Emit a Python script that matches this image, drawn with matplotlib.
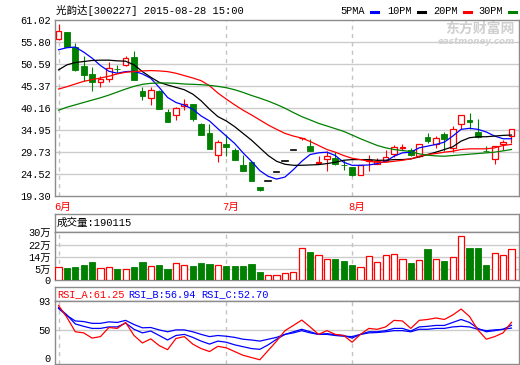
import matplotlib
matplotlib.use("Agg")
import matplotlib.pyplot as plt
import matplotlib.transforms as mtransforms
from matplotlib.patches import Rectangle
from matplotlib.lines import Line2D

plt.rcParams['font.family'] = ['Liberation Mono', 'Noto Sans CJK SC', 'DejaVu Sans']
plt.rcParams['font.size'] = 7.4

# ---------------- data ----------------
title_text = "光韵达[300227] 2015-08-28 15:00"
opens = [56.44, 58.27, 54.69, 50.15, 48.24, 46.25, 47.04, 49.51, 50.39, 52.30,
         44.18, 42.59, 44.18, 39.16, 38.52, 40.75, 41.07, 36.30, 34.31, 28.97,
         31.52, 30.32, 26.74, 27.38, 21.41, 22.92, 25.07, 27.54, 30.32, 33.03,
         31.04, 27.07, 28.18, 28.34, 26.74, 26.11, 24.27, 27.62, 26.98, 27.54,
         29.29, 30.56, 30.32, 28.75, 33.35, 31.52, 33.91, 30.72, 36.45, 37.33,
         34.55, 30.01, 28.18, 31.68, 33.59]
highs = [60.18, 58.27, 55.64, 52.46, 49.83, 47.68, 51.18, 50.39, 52.38, 53.73,
         45.13, 45.13, 44.34, 39.88, 40.51, 42.27, 41.07, 36.53, 36.30, 32.56,
         33.75, 30.64, 28.97, 27.38, 21.41, 22.92, 25.07, 27.54, 30.32, 33.11,
         32.71, 28.89, 29.93, 29.69, 27.86, 26.11, 26.58, 28.97, 28.42, 30.32,
         31.28, 31.68, 30.72, 31.68, 34.31, 33.51, 34.47, 35.90, 38.53, 38.92,
         37.49, 31.12, 31.12, 32.56, 35.26]
lows = [56.20, 54.69, 49.03, 46.64, 44.26, 45.21, 46.25, 48.48, 50.23, 46.80,
        42.03, 40.83, 39.88, 36.85, 37.33, 39.72, 37.09, 33.67, 30.48, 27.30,
        28.89, 27.78, 25.15, 22.76, 20.53, 22.92, 25.07, 27.54, 30.32, 32.48,
        29.90, 27.07, 25.15, 26.66, 25.39, 23.96, 24.27, 25.15, 26.98, 27.54,
        28.57, 30.32, 28.89, 28.57, 31.76, 30.72, 29.93, 29.69, 35.10, 35.10,
        33.11, 29.85, 26.90, 30.09, 31.92]
closes = [58.43, 54.69, 49.27, 48.08, 46.41, 46.96, 49.59, 49.43, 51.98, 46.88,
          43.06, 44.42, 39.96, 36.85, 40.27, 41.07, 37.57, 33.75, 30.48, 32.16,
          30.88, 27.94, 25.15, 22.92, 20.77, 22.92, 25.07, 27.54, 30.32, 33.11,
          29.93, 27.38, 28.81, 26.98, 26.66, 24.20, 26.58, 27.94, 27.54, 28.57,
          30.88, 30.88, 29.13, 31.68, 32.32, 33.11, 32.87, 35.10, 38.53, 36.93,
          33.35, 29.85, 31.12, 32.16, 35.26]

ma5 = [53.97, 54.45, 54.61, 53.41, 51.98, 50.23, 48.87, 48.40, 48.79, 48.87,
       48.24, 47.20, 45.05, 42.66, 41.47, 40.83, 39.88, 38.28, 37.09, 35.26,
       33.51, 31.76, 29.53, 27.53, 25.31, 23.96, 23.31, 23.79, 25.54, 27.53,
       29.13, 29.53, 29.69, 28.89, 27.30, 26.58, 26.58, 26.66, 26.98, 27.53,
       28.73, 29.53, 29.69, 30.72, 31.12, 31.52, 32.07, 33.51, 35.10, 35.34,
       35.10, 34.47, 33.51, 32.87, 32.87]
ma10 = [49.19, 50.39, 50.94, 51.18, 51.42, 51.50, 51.50, 51.34, 51.26, 50.39,
        48.79, 47.44, 46.25, 45.61, 45.05, 44.49, 43.46, 41.87, 39.88, 38.12,
        37.09, 35.74, 34.14, 32.55, 30.72, 28.89, 27.53, 26.82, 26.58, 26.58,
        26.66, 26.74, 26.98, 27.30, 27.77, 27.93, 27.93, 27.93, 27.77, 27.77,
        27.93, 27.93, 28.09, 28.57, 29.13, 29.69, 30.32, 30.96, 32.31, 33.11,
        33.35, 33.35, 33.51, 33.67, 33.75]
ma20 = [44.65, 45.21, 45.85, 46.48, 46.88, 47.28, 47.68, 48.24, 48.63, 48.79,
        48.95, 49.03, 48.95, 48.79, 48.40, 47.84, 47.28, 46.64, 45.45, 43.70,
        42.27, 40.91, 39.64, 38.52, 37.33, 36.13, 35.10, 34.14, 33.51, 33.03,
        32.23, 31.28, 30.32, 29.69, 28.89, 28.25, 27.93, 27.53, 27.30, 27.30,
        27.53, 27.77, 28.09, 28.73, 29.13, 29.37, 29.69, 29.92, 30.32, 30.48,
        30.48, 30.48, 30.72, 31.28, 31.52]
ma30 = [39.64, 40.35, 40.91, 41.47, 42.03, 42.58, 43.22, 43.94, 44.65, 45.29,
        45.77, 46.01, 46.09, 46.09, 46.01, 45.85, 45.77, 45.69, 45.53, 45.29,
        44.97, 44.49, 43.86, 43.14, 42.50, 41.79, 40.99, 40.11, 39.08, 38.12,
        37.33, 36.53, 35.90, 35.26, 34.62, 33.75, 32.87, 32.07, 31.28, 30.72,
        30.32, 30.08, 29.84, 29.29, 28.97, 28.81, 28.73, 28.89, 29.05, 29.21,
        29.37, 29.53, 29.69, 30.00, 30.32]

volumes = [78700, 74600, 80800, 93200, 111800, 74600, 78700, 68300, 68300, 80800,
           111800, 87000, 93200, 68300, 101500, 91100, 87000, 105600, 99400, 91100,
           87000, 87000, 87000, 97300, 49700, 29000, 29000, 41400, 47600, 196700,
           167800, 153300, 128400, 130500, 118000, 93200, 78700, 147000, 109800, 153300,
           159500, 128400, 105600, 122200, 186400, 128400, 118000, 140800, 265000, 192600,
           192600, 93200, 165700, 153300, 190115]

rsi_a = [86.35, 68.62, 47.22, 45.56, 37.78, 40.00, 53.55, 52.22, 61.08, 41.67,
         30.56, 36.67, 26.67, 20.56, 37.22, 40.00, 28.89, 22.22, 17.78, 25.56,
         23.33, 17.78, 12.22, 8.89, 5.56, 19.44, 33.33, 48.89, 56.65, 64.63,
         54.43, 43.33, 48.89, 43.33, 41.67, 31.67, 43.33, 52.22, 50.89, 54.43,
         64.18, 63.30, 52.22, 64.18, 65.52, 67.73, 65.52, 72.17, 81.03, 69.95,
         50.00, 36.11, 40.00, 45.56, 61.25]
rsi_b = [83.25, 72.17, 58.87, 55.32, 52.22, 52.22, 54.43, 54.43, 60.20, 50.89,
         45.56, 48.33, 41.67, 35.00, 41.67, 43.33, 38.89, 33.33, 28.89, 33.33,
         31.67, 27.78, 25.00, 22.22, 21.11, 27.78, 36.11, 43.33, 47.22, 50.89,
         47.22, 43.33, 44.44, 42.78, 41.67, 37.78, 43.33, 47.22, 47.22, 48.89,
         52.22, 52.22, 48.33, 54.43, 55.32, 56.65, 56.65, 61.08, 65.52, 61.08,
         52.22, 47.22, 48.89, 50.89, 56.94]
rsi_c = [81.92, 71.28, 63.30, 62.41, 59.75, 59.75, 61.97, 61.08, 64.18, 57.98,
         53.10, 53.55, 50.00, 47.22, 50.00, 50.00, 47.22, 43.33, 40.00, 41.67,
         40.56, 38.89, 36.11, 35.00, 33.33, 36.11, 38.89, 43.33, 45.56, 48.89,
         45.56, 43.33, 43.33, 41.67, 40.56, 40.00, 43.33, 45.56, 46.11, 47.22,
         48.89, 48.89, 47.22, 50.89, 50.89, 52.22, 52.22, 54.43, 55.32, 54.43,
         50.89, 48.89, 50.00, 50.89, 52.70]

price_ticks = [19.30, 24.52, 29.73, 34.95, 40.16, 45.37, 50.59, 55.80, 61.02]
vol_ticks = [0, 68000, 141000, 213000, 292000]
vol_tick_labels = ['0', '5万', '14万', '22万', '30万']
rsi_ticks = [0, 50, 93]
month_starts = [0, 20, 35]
month_labels = ['6月', '7月', '8月']
legend_names = ['5PMA', '10PM', '20PM', '30PM']
legend_colors = ['#0000FF', '#000000', '#FF0000', '#008000']
vol_title = '成交量:190115'
rsi_titles = ['RSI_A:61.25', 'RSI_B:56.94', 'RSI_C:52.70']
rsi_title_colors = ['#FF0000', '#0000FF', '#0000FF']

# ---------------- layout helpers ----------------
W, H = 520, 365
fig = plt.figure(figsize=(W / 100, H / 100), dpi=100)
fig.patch.set_facecolor('white')


def axes_px(x0, y0, x1, y1):
    return fig.add_axes([x0 / W, 1 - y1 / H, (x1 - x0) / W, (y1 - y0) / H])


BORDER = '#8c8c8c'
GRID = '#cccccc'
DASH = '#c4c4c4'
RED = '#FF0000'
GREEN = '#008000'
n = len(closes)
xs = list(range(n))
XLIM = (-0.42, n - 0.1)


def style(ax):
    ax.set_xlim(*XLIM)
    ax.set_facecolor('white')
    for s in ax.spines.values():
        s.set_color(BORDER)
        s.set_linewidth(1.0)
    ax.set_xticks([])
    ax.tick_params(axis='y', length=0, pad=3, labelsize=7.4)


# ---------------- main price panel ----------------
ax = axes_px(55, 20, 519, 196)
style(ax)
ax.set_ylim(price_ticks[0], price_ticks[-1])
ax.set_yticks(price_ticks)
ax.set_yticklabels([f"{t:.2f}" for t in price_ticks])
for t in price_ticks[1:-1]:
    ax.axhline(t, color=GRID, lw=1.0, zorder=0)
for m in month_starts:
    ax.axvline(m, color=DASH, lw=1.0, ls=(0, (3, 3)), zorder=0)

# watermark
ax.text(0.99, 0.95, '东方财富网', transform=ax.transAxes, ha='right', va='center',
        color='#cfcfcf', fontsize=10, fontweight='bold', family=['Noto Sans CJK SC'], zorder=0)
ax.text(0.99, 0.875, 'eastmoney.com', transform=ax.transAxes, ha='right', va='center',
        color='#d2d2d2', fontsize=6.3, fontweight='bold', style='italic',
        family=['DejaVu Sans'], zorder=0)

bw = 0.68
for i in xs:
    o, h, l, c = opens[i], highs[i], lows[i], closes[i]
    if c > o:
        ax.plot([i, i], [c, h], color=RED, lw=0.8, zorder=3, solid_capstyle='butt')
        ax.plot([i, i], [l, o], color=RED, lw=0.8, zorder=3, solid_capstyle='butt')
        ax.add_patch(Rectangle((i - bw / 2, o), bw, c - o, facecolor='white',
                               edgecolor=RED, lw=0.9, zorder=3))
    elif c < o:
        ax.plot([i, i], [l, h], color=GREEN, lw=0.8, zorder=3, solid_capstyle='butt')
        ax.add_patch(Rectangle((i - bw / 2, c), bw, o - c, facecolor=GREEN,
                               edgecolor=GREEN, lw=0.6, zorder=3))
    else:
        ax.plot([i - bw / 2, i + bw / 2], [c, c], color='black', lw=1.2, zorder=3)

for series, col in zip([ma5, ma10, ma20, ma30], legend_colors):
    ax.plot(xs, series, color=col, lw=0.9, zorder=4)

# title and legend
fig.text(56 / W, 1 - 10 / H, title_text, ha='left', va='center', fontsize=7.6)
leg_x = [340, 387, 433, 478]
for name, col, x0 in zip(legend_names, legend_colors, leg_x):
    fig.text(x0 / W, 1 - 11 / H, name, ha='left', va='center', fontsize=7.4)
    dx = x0 + 31
    fig.add_artist(Line2D([dx / W, (dx + 7) / W], [1 - 11.5 / H, 1 - 11.5 / H],
                          color=col, lw=2.2, transform=fig.transFigure))

# month labels
blend = mtransforms.blended_transform_factory(ax.transData, fig.transFigure)
for m, lab in zip(month_starts, month_labels):
    fig.text(m - 0.45, 1 - 207 / H, lab, transform=blend, ha='left', va='center',
             color=RED, fontsize=7.6)

# ---------------- volume panel ----------------
axvt = axes_px(55, 214, 519, 232)
style(axvt)
axvt.set_yticks([])
axvt.text(2 / 464, 0.5, vol_title, transform=axvt.transAxes, ha='left', va='center', fontsize=7.6)

axv = axes_px(55, 232, 519, 280)
style(axv)
axv.set_ylim(0, vol_ticks[-1])
axv.set_yticks(vol_ticks)
axv.set_yticklabels(vol_tick_labels)
for t in vol_ticks[1:-1]:
    axv.axhline(t, color=GRID, lw=1.0, zorder=0)
for m in month_starts:
    axv.axvline(m, color=DASH, lw=1.0, ls=(0, (3, 3)), zorder=0)
vw = 0.74
for i in xs:
    up = closes[i] >= opens[i]
    if up:
        axv.add_patch(Rectangle((i - vw / 2, 0), vw, volumes[i], facecolor='white',
                                edgecolor=RED, lw=0.9, zorder=3))
    else:
        axv.add_patch(Rectangle((i - vw / 2, 0), vw, volumes[i], facecolor=GREEN,
                                edgecolor=GREEN, lw=0.6, zorder=3))

# ---------------- RSI panel ----------------
axrt = axes_px(55, 287, 519, 301)
style(axrt)
axrt.set_yticks([])
rsi_x = [2, 73, 146]
for txt, col, px in zip(rsi_titles, rsi_title_colors, rsi_x):
    axrt.text(px / 464, 0.5, txt, transform=axrt.transAxes, ha='left', va='center',
              color=col, fontsize=7.4)

axr = axes_px(55, 301, 519, 363.5)
style(axr)
axr.set_ylim(rsi_ticks[0], rsi_ticks[-1])
axr.set_yticks(rsi_ticks)
axr.set_yticklabels([str(t) for t in rsi_ticks])
# keep the bottom label inside the picture
axr.get_yticklabels()[0].set_verticalalignment('bottom')
axr.axhline(50, color=GRID, lw=1.0, zorder=0)
for m in month_starts:
    axr.axvline(m, color=DASH, lw=1.0, ls=(0, (3, 3)), zorder=0)
axr.plot(xs, rsi_c, color='#0000FF', lw=0.9, zorder=3)
axr.plot(xs, rsi_b, color='#0000FF', lw=0.9, zorder=3)
axr.plot(xs, rsi_a, color=RED, lw=0.9, zorder=4)

fig.savefig('out.png', dpi=100, facecolor='white')
